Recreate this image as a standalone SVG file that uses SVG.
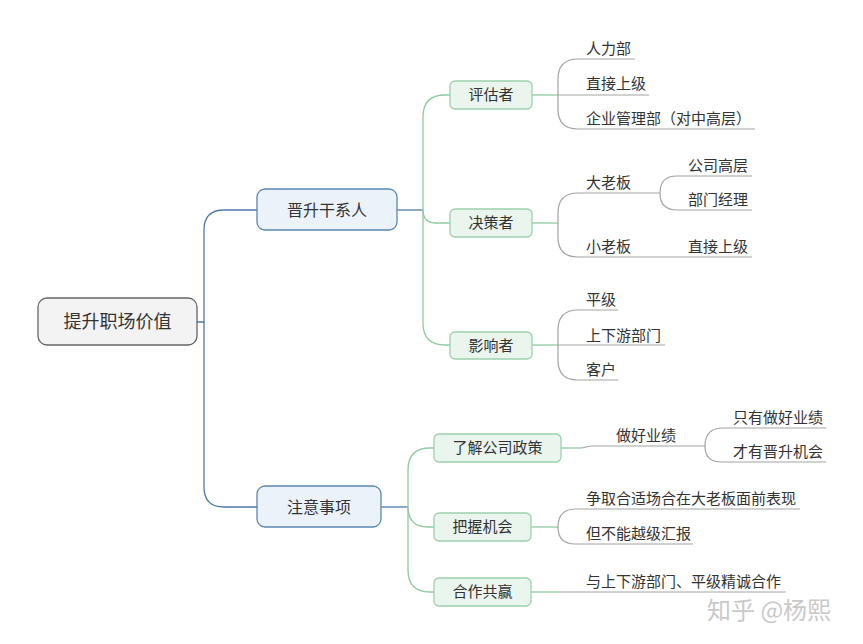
<svg xmlns="http://www.w3.org/2000/svg" width="863" height="644" viewBox="0 0 863 644">
<style>
text{font-family:"Noto Sans CJK SC","Noto Sans",sans-serif;fill:#333;}
.t{font-size:15px;}
.tb{font-size:15px;text-anchor:middle;}
.tm{font-size:16px;text-anchor:middle;}
.tr{font-size:18px;text-anchor:middle;}
.blue{fill:none;stroke:#4e7aa6;stroke-width:1.3;}
.green{fill:none;stroke:#8fcaa2;stroke-width:1.3;}
.gray{fill:none;stroke:#a3a3a3;stroke-width:1.2;}
.rootbox{fill:#f3f3f3;stroke:#666;stroke-width:1.3;}
.bbox{fill:#ecf2fa;stroke:#5b86b3;stroke-width:1.3;}
.gbox{fill:#e9f5ed;stroke:#9dd0ae;stroke-width:1.3;}
</style>
<rect width="863" height="644" fill="#fff"/>
<g id="connectors">
<path class="blue" d="M197,322 H204 V230 Q204,210 224,210 H257"/>
<path class="blue" d="M204,322 V487 Q204,507 224,507 H257"/>
<path class="blue" d="M397,210 H423"/>
<path class="blue" d="M381,507 H408"/>
<path class="green" d="M423,210 V117 Q423,95 445,95 H450"/>
<path class="green" d="M423,210 Q423,223 436,223 H450"/>
<path class="green" d="M423,210 V323 Q423,345 445,345 H450"/>
<path class="green" d="M408,507 V470 Q408,448 430,448 H434"/>
<path class="green" d="M408,507 Q408,527 428,527 H434"/>
<path class="green" d="M408,507 V570 Q408,592 430,592 H434"/>
<path class="green" d="M532,95 H558"/>
<path class="green" d="M532,223 H558"/>
<path class="green" d="M532,345 H558"/>
<path class="green" d="M561,448 H580"/>
<path class="green" d="M531,527 H558"/>
<path class="green" d="M531,592 H558"/>
<path class="gray" d="M558,95 V79 Q558,59 578,59 H635"/>
<path class="gray" d="M558,95 H649"/>
<path class="gray" d="M558,95 V109 Q558,129 578,129 H755"/>
<path class="gray" d="M558,223 V213 Q558,193 578,193 H660"/>
<path class="gray" d="M558,223 V237 Q558,257 578,257 H752"/>
<path class="gray" d="M660,193 Q660,176 677,176 H752"/>
<path class="gray" d="M660,193 Q660,210 677,210 H752"/>
<path class="gray" d="M558,345 V330 Q558,310 578,310 H618"/>
<path class="gray" d="M558,345 H665"/>
<path class="gray" d="M558,345 V360 Q558,380 578,380 H618"/>
<path class="gray" d="M580,448 C586,448 586,446 592,446 H705"/>
<path class="gray" d="M705,446 Q705,428 723,428 H826"/>
<path class="gray" d="M705,446 Q705,462 721,462 H826"/>
<path class="gray" d="M558,527 Q558,509 576,509 H800"/>
<path class="gray" d="M558,527 Q558,544 575,544 H693"/>
<path class="gray" d="M558,592 H786"/>
</g>
<g id="root"><rect class="rootbox" x="38" y="298" width="159" height="47" rx="9"/><text class="tr" x="117.5" y="328">提升职场价值</text></g>
<g id="n-jsgxr"><rect class="bbox" x="257" y="189" width="140" height="41" rx="8"/><text class="tm" x="327" y="215.5">晋升干系人</text></g>
<g id="n-zysx"><rect class="bbox" x="257" y="486" width="124" height="41" rx="8"/><text class="tm" x="319" y="512.5">注意事项</text></g>
<g id="n-pgz"><rect class="gbox" x="450" y="81" width="82" height="28" rx="5"/><text class="tb" x="491" y="100">评估者</text></g>
<g id="n-jcz"><rect class="gbox" x="450" y="209" width="82" height="28" rx="5"/><text class="tb" x="491" y="228">决策者</text></g>
<g id="n-yxz"><rect class="gbox" x="450" y="332" width="82" height="27" rx="5"/><text class="tb" x="491" y="350.5">影响者</text></g>
<g id="n-ljgszc"><rect class="gbox" x="434" y="434" width="127" height="28" rx="5"/><text class="tb" x="497.5" y="453">了解公司政策</text></g>
<g id="n-bwjh"><rect class="gbox" x="434" y="513" width="97" height="28" rx="5"/><text class="tb" x="482.5" y="532">把握机会</text></g>
<g id="n-hzgy"><rect class="gbox" x="434" y="578" width="97" height="28" rx="5"/><text class="tb" x="482.5" y="597">合作共赢</text></g>
<g id="l-rlb"><text class="t" x="586" y="54">人力部</text></g>
<g id="l-zjsj1"><text class="t" x="586" y="89">直接上级</text></g>
<g id="l-qyglb"><text class="t" x="586" y="124">企业管理部（对中高层）</text></g>
<g id="l-dlb"><text class="t" x="586" y="188">大老板</text></g>
<g id="l-gsgc"><text class="t" x="688" y="171">公司高层</text></g>
<g id="l-bmjl"><text class="t" x="688" y="205">部门经理</text></g>
<g id="l-xlb"><text class="t" x="586" y="252">小老板</text></g>
<g id="l-zjsj2"><text class="t" x="688" y="252">直接上级</text></g>
<g id="l-pj"><text class="t" x="586" y="305">平级</text></g>
<g id="l-sxybm"><text class="t" x="586" y="341">上下游部门</text></g>
<g id="l-kh"><text class="t" x="586" y="375">客户</text></g>
<g id="l-zhyj"><text class="t" x="616" y="441">做好业绩</text></g>
<g id="l-zyzhyj"><text class="t" x="733" y="423">只有做好业绩</text></g>
<g id="l-cyjsjh"><text class="t" x="733" y="457">才有晋升机会</text></g>
<g id="l-zq"><text class="t" x="586" y="504">争取合适场合在大老板面前表现</text></g>
<g id="l-dbn"><text class="t" x="586" y="539">但不能越级汇报</text></g>
<g id="l-ysxy"><text class="t" x="586" y="587">与上下游部门、平级精诚合作</text></g>
<text x="707" y="619" style="font-size:24px;fill:#c9c9c9;">知乎 @杨熙</text>
</svg>
